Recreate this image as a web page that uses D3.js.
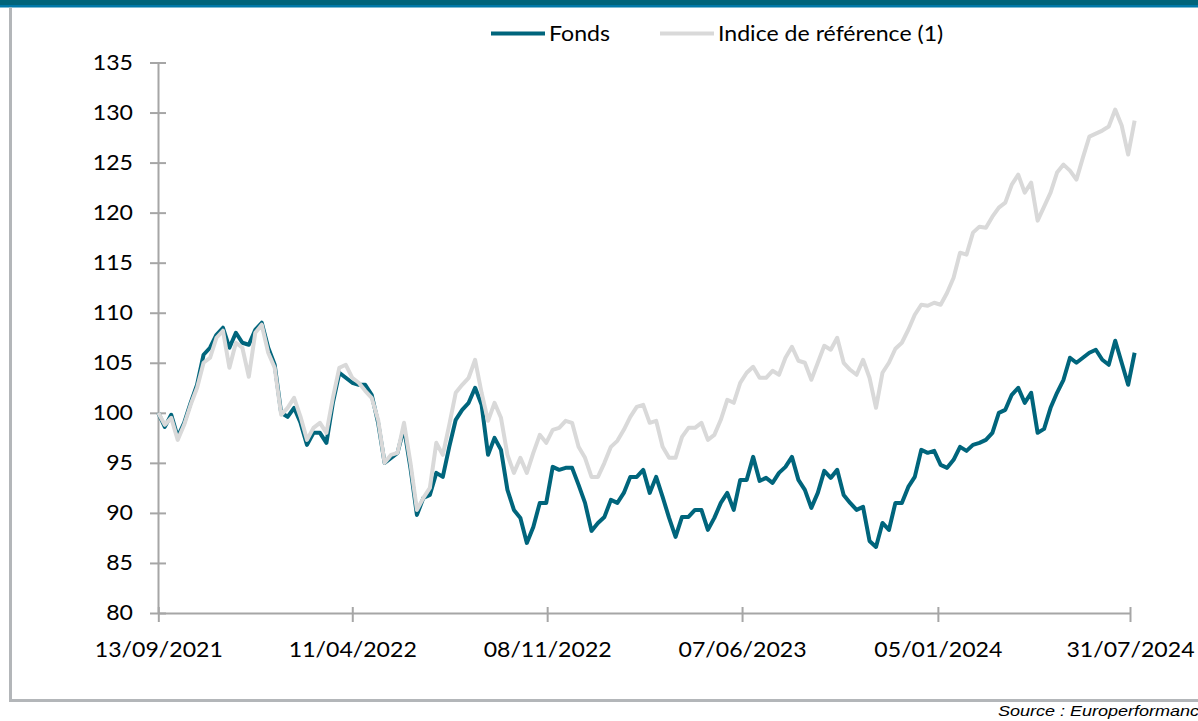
<!DOCTYPE html>
<meta charset="utf-8">
<script src="https://d3js.org/d3.v7.min.js"></script>
<style>
  body { margin: 0; background: #fff; }
  text { font-family: Lato, "Open Sans", sans-serif; fill: #000; }
</style>
<div id="chart"></div>
<script>

// weekly values, first week = 13/09/2021
var startDate = "2021-09-13";

var fonds = [100.0, 98.6, 99.8, 97.6, 99.0, 101.0, 102.8, 105.8, 106.5, 107.8,
  108.5, 106.5, 108.0, 107.0, 106.8, 108.3, 109.0, 106.5, 104.8, 100.0,
  99.6, 100.5, 99.0, 96.8, 98.0, 98.0, 97.0, 101.0, 104.0, 103.5,
  103.0, 102.8, 102.8, 101.8, 99.0, 95.0, 95.5, 96.0, 98.5, 94.5,
  89.8, 91.5, 91.8, 94.0, 93.6, 96.6, 99.3, 100.3, 101.0, 102.5,
  100.8, 95.8, 97.5, 96.3, 92.3, 90.3, 89.5, 87.0, 88.6, 91.0,
  91.0, 94.6, 94.3, 94.5, 94.5, 92.8, 91.0, 88.2, 89.0, 89.6,
  91.3, 91.0, 92.0, 93.6, 93.6, 94.3, 92.0, 93.6, 91.6, 89.5,
  87.6, 89.6, 89.6, 90.3, 90.3, 88.3, 89.5, 91.0, 92.0, 90.3,
  93.3, 93.3, 95.6, 93.2, 93.5, 93.0, 94.0, 94.6, 95.6, 93.3,
  92.3, 90.5, 92.0, 94.2, 93.5, 94.3, 91.8, 91.0, 90.3, 90.6,
  87.2, 86.6, 89.0, 88.3, 91.0, 91.0, 92.6, 93.6, 96.3, 96.0,
  96.2, 94.8, 94.5, 95.3, 96.6, 96.2, 96.8, 97.0, 97.3, 98.0,
  100.0, 100.3, 101.8, 102.5, 101.0, 102.0, 98.0, 98.4, 100.5, 102.0,
  103.3, 105.5, 105.0, 105.5, 106.0, 106.3, 105.3, 104.8, 107.2, 105.0,
  102.8, 106.0];

var indice = [100.0, 98.8, 99.5, 97.3, 98.8, 100.8, 102.5, 105.0, 105.5, 107.5,
  108.2, 104.5, 107.0, 106.5, 103.6, 108.0, 108.8, 106.0, 104.5, 99.8,
  100.5, 101.5, 99.6, 97.3, 98.5, 99.0, 98.0, 101.5, 104.5, 104.8,
  103.5, 103.0, 102.2, 101.5, 99.3, 95.0, 95.8, 96.0, 99.0, 95.0,
  90.3, 91.5, 92.5, 97.0, 95.8, 98.8, 102.0, 102.8, 103.5, 105.3,
  102.0, 99.2, 101.0, 99.5, 95.8, 94.0, 95.5, 94.0, 96.0, 97.8,
  97.0, 98.3, 98.5, 99.2, 99.0, 96.6, 95.5, 93.6, 93.6, 95.0,
  96.6, 97.2, 98.3, 99.6, 100.6, 100.8, 99.0, 99.2, 96.6, 95.5,
  95.5, 97.6, 98.5, 98.5, 99.0, 97.3, 97.8, 99.3, 101.3, 101.0,
  103.0, 104.0, 104.6, 103.5, 103.5, 104.2, 103.8, 105.5, 106.6, 105.2,
  105.0, 103.3, 105.0, 106.7, 106.3, 107.5, 105.0, 104.3, 103.8, 105.3,
  103.5, 100.5, 104.0, 105.0, 106.4, 107.0, 108.3, 109.8, 110.8, 110.7,
  111.0, 110.8, 112.0, 113.5, 116.0, 115.8, 118.0, 118.6, 118.5, 119.6,
  120.5, 121.0, 122.8, 123.8, 122.0, 123.0, 119.2, 120.6, 122.0, 124.0,
  124.8, 124.2, 123.3, 125.5, 127.6, 127.9, 128.2, 128.6, 130.3, 128.7,
  125.8, 129.2];

var tickDates = ["2021-09-13", "2022-04-11", "2022-11-08", "2023-06-07", "2024-01-05", "2024-07-31"];
var yTicks = [80, 85, 90, 95, 100, 105, 110, 115, 120, 125, 130, 135];
var seriesNames = ["Fonds", "Indice de référence (1)"];
var seriesColors = ["#00657c", "#d9d9d9"];

var W = 1198, H = 721;
var parse = d3.timeParse("%Y-%m-%d");
var fmt = d3.timeFormat("%d/%m/%Y");
var t0 = parse(startDate);

var svg = d3.select("#chart").append("svg")
  .attr("width", W).attr("height", H);

// frame: top band and grey border
svg.append("rect").attr("x", 0).attr("y", 0).attr("width", W).attr("height", 5).attr("fill", "#00647a");
svg.append("rect").attr("x", 0).attr("y", 5).attr("width", W).attr("height", 2.5).attr("fill", "#0078a8");
svg.append("rect").attr("x", 9).attr("y", 7.5).attr("width", 3).attr("height", 694.5).attr("fill", "#b3b6b9");
svg.append("rect").attr("x", 9).attr("y", 699).attr("width", W - 9).attr("height", 3).attr("fill", "#b3b6b9");

var x = d3.scaleTime()
  .domain([parse(tickDates[0]), parse(tickDates[tickDates.length - 1])])
  .range([158.3, 1130]);

var y = d3.scaleLinear()
  .domain([80, 135])
  .range([613, 62.5]);

function stretch(sel, k) {
  sel.each(function () {
    var len = this.getComputedTextLength();
    d3.select(this).attr("textLength", len * k).attr("lengthAdjust", "spacingAndGlyphs");
  });
}

// Y axis
var gy = svg.append("g")
  .attr("transform", "translate(158,0)")
  .call(d3.axisLeft(y).tickValues(yTicks).tickSizeInner(8).tickSizeOuter(0).tickPadding(17));
gy.select(".domain").attr("stroke", "#a6a6a6").attr("stroke-width", 2);
gy.selectAll(".tick line").attr("x1", 8).attr("stroke", "#a6a6a6").attr("stroke-width", 2);
gy.selectAll(".tick text").attr("font-size", 21).attr("font-family", "Lato").attr("fill", "#000");
stretch(gy.selectAll(".tick text"), 1.1);

// X axis
var gx = svg.append("g")
  .attr("transform", "translate(0,613)")
  .call(d3.axisBottom(x).tickValues(tickDates.map(parse)).tickFormat(fmt).tickSizeInner(9).tickSizeOuter(0));
gx.select(".domain").attr("stroke", "#a6a6a6").attr("stroke-width", 2);
gx.selectAll(".tick line").attr("y1", -6).attr("stroke", "#a6a6a6").attr("stroke-width", 2);
gx.selectAll(".tick text").attr("font-size", 21).attr("font-family", "Lato").attr("fill", "#000")
  .attr("y", 44).attr("dy", 0);
stretch(gx.selectAll(".tick text"), 1.1);

// lines
var line = d3.line()
  .x(function (d, i) { return x(d3.timeDay.offset(t0, 7 * i)); })
  .y(function (d) { return y(d); });

[fonds, indice].forEach(function (s, k) {
  svg.append("path")
    .datum(s)
    .attr("fill", "none")
    .attr("stroke", seriesColors[k])
    .attr("stroke-width", 4)
    .attr("stroke-linejoin", "round")
    .attr("d", line);
});

// legend
var legX = [491, 660];
seriesNames.forEach(function (name, k) {
  svg.append("line")
    .attr("x1", legX[k]).attr("x2", legX[k] + 54)
    .attr("y1", 33.5).attr("y2", 33.5)
    .attr("stroke", seriesColors[k]).attr("stroke-width", 4);
  var t = svg.append("text")
    .attr("x", legX[k] + 58).attr("y", 41)
    .attr("font-size", 21)
    .text(name);
  stretch(t, 1.1);
});

var src = svg.append("text")
  .attr("x", 998).attr("y", 716)
  .attr("font-style", "italic")
  .attr("font-size", 15)
  .attr("fill", "#222")
  .style("font-family", "'Liberation Sans', Arial, sans-serif")
  .text("Source : Europerformance");
stretch(src, 1.2);

</script>
